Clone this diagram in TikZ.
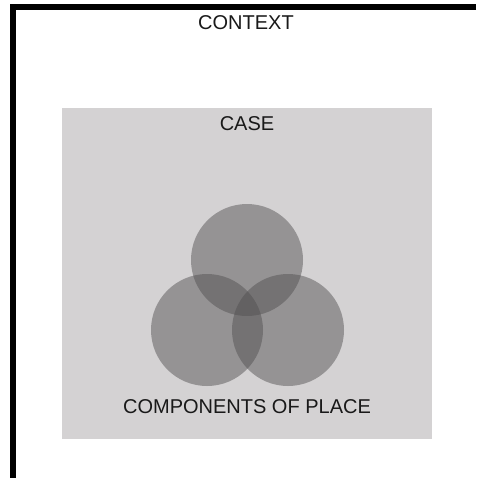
\documentclass[tikz,border=0pt]{standalone}
\usepackage{fontspec}
\setmainfont{Liberation Sans}
\usepackage{tikz}
\usetikzlibrary{positioning}
\definecolor{casegray}{RGB}{212,210,211}
\definecolor{placegray}{RGB}{80,78,79}
\tikzstyle{caption} = [font=\fontsize{20}{24}\selectfont,inner sep=0pt,text=black!90]
\tikzstyle{component} = [circle,fill=placegray,fill opacity=0.47,minimum size=112pt,inner sep=0pt]

\begin{document}
\begin{tikzpicture}[x=1pt,y=-1pt]
			\useasboundingbox (0,0) rectangle (476,478);
			%Frame
			\draw[line width=6pt] (476,7) -- (13,7) -- (13,478);
			
			%Nodes
			\node (rect) [caption] (context) at (246,23) {CONTEXT};
			\node (rect) [fill=casegray,inner sep=0pt,minimum width=370pt,minimum height=331pt] (case) at (247,273.5) {};
			\node (rect) [caption, below=9pt of case.north] (casetext) {CASE};
			\node (rect) [component] (place1) at (247,260) {};
			\node (rect) [component] (place2) at (207,330) {};
			\node (rect) [component] (place3) at (288,330) {};
			\node (rect) [caption, above=25pt of case.south] (placetext) {COMPONENTS OF PLACE};
		\end{tikzpicture}
\end{document}
